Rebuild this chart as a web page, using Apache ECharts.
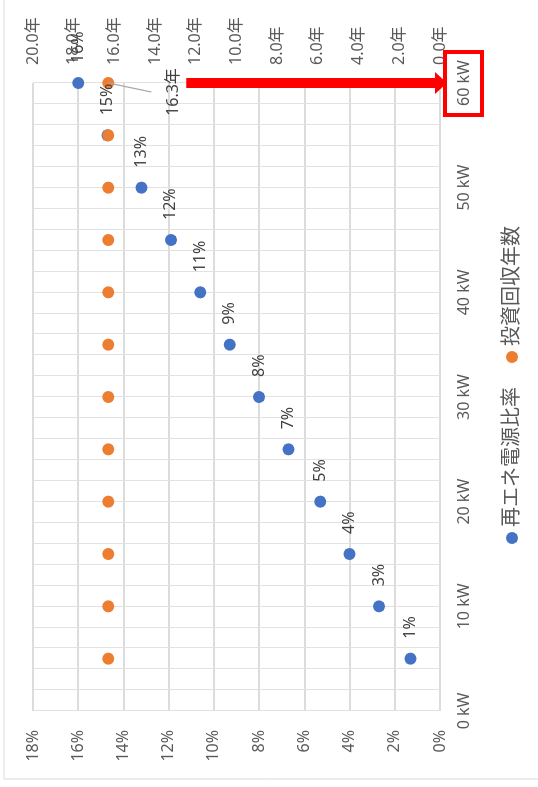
<!DOCTYPE html>
<html>
<head>
<meta charset="utf-8">
<script src="https://cdn.jsdelivr.net/npm/echarts@6/dist/echarts.min.js"></script>
<style>
  html, body { margin: 0; padding: 0; background: #fff; overflow: hidden; width: 538px; height: 787px; }
  #chart { position: absolute; left: 0; top: 0; width: 787px; height: 538px;
           transform-origin: 0 0; transform: translate(0, 787px) rotate(-90deg); background: #fff; }
</style>
</head>
<body>
<div id="chart"></div>
<script>
// ---- data ----
const capacityKW = [5, 10, 15, 20, 25, 30, 35, 40, 45, 50, 55, 60];
const renewableRatio = [1.3, 2.7, 4.0, 5.3, 6.7, 8.0, 9.3, 10.6, 11.9, 13.2, 14.7, 16.0]; // %
const paybackYears = [16.3, 16.3, 16.3, 16.3, 16.3, 16.3, 16.3, 16.3, 16.3, 16.3, 16.3, 16.3]; // 年
const seriesNames = ['再エネ電源比率', '投資回収年数'];
const kwTicks = { min: 0, max: 60, interval: 10 };
const pctTicks = { min: 0, max: 18, interval: 2 };
const yearTicks = { min: 0, max: 20, interval: 2 };

const FONT = '"Noto Sans", "Noto Sans CJK JP", sans-serif';
const chart = echarts.init(document.getElementById('chart'), null, { renderer: 'canvas' });
const lastIdx = capacityKW.length - 1;

const option = {
  animation: false,
  backgroundColor: '#fff',
  textStyle: { fontFamily: FONT },
  grid: { left: 76, right: 83, top: 33, bottom: 98 },
  legend: {
    data: seriesNames,
    left: 243, top: 502, padding: 0,
    icon: 'circle', itemWidth: 12, itemHeight: 12, itemGap: 24,
    textStyle: { fontSize: 20, color: '#595959', fontFamily: FONT }
  },
  xAxis: {
    type: 'value', min: kwTicks.min, max: kwTicks.max, interval: kwTicks.interval,
    axisLine: { show: false }, axisTick: { show: false },
    axisLabel: { formatter: v => v + ' kW', fontSize: 16, color: '#595959', margin: 16, fontFamily: FONT },
    splitLine: { show: true, lineStyle: { color: '#E2E2E2', width: 1 } },
    minorTick: { show: false, splitNumber: 5 },
    minorSplitLine: { show: true, lineStyle: { color: '#E2E2E2', width: 1 } }
  },
  yAxis: [
    {
      type: 'value', min: pctTicks.min, max: pctTicks.max, interval: pctTicks.interval,
      axisLine: { show: false }, axisTick: { show: false },
      axisLabel: { formatter: v => v + '%', fontSize: 16, color: '#595959', margin: 19, fontFamily: FONT },
      splitLine: { show: true, lineStyle: { color: '#D0D0D0', width: 1.5 } }
    },
    {
      type: 'value', min: yearTicks.min, max: yearTicks.max, interval: yearTicks.interval,
      position: 'right',
      axisLine: { show: false }, axisTick: { show: false },
      axisLabel: { formatter: v => v.toFixed(1) + '年', fontSize: 16, color: '#595959', margin: 18, fontFamily: FONT },
      splitLine: { show: false }
    }
  ],
  series: [
    {
      name: seriesNames[0], type: 'scatter', yAxisIndex: 0,
      symbol: 'circle', symbolSize: 12,
      itemStyle: { color: '#4472C4', opacity: 1 },
      data: capacityKW.map((k, i) => [k, renewableRatio[i]]),
      label: {
        show: true, position: 'right', distance: 14,
        formatter: p => Math.round(p.value[1]) + '%',
        fontSize: 16, color: '#404040', fontFamily: FONT
      }
    },
    {
      name: seriesNames[1], type: 'scatter', yAxisIndex: 1,
      symbol: 'circle', symbolSize: 12,
      itemStyle: { color: '#ED7D31', opacity: 1 },
      data: capacityKW.map((k, i) => {
        const d = { value: [k, paybackYears[i]] };
        if (i === lastIdx) {
          d.label = {
            show: true, position: 'inside', offset: [-9, 65],
            formatter: p => p.value[1].toFixed(1) + '年',
            fontSize: 16, color: '#404040', fontFamily: FONT
          };
        }
        return d;
      }),
      label: { show: false }
    }
  ]
};
chart.setOption(option);

// annotations computed from the axes
const pOrange = chart.convertToPixel({ xAxisIndex: 0, yAxisIndex: 1 }, [capacityKW[lastIdx], paybackYears[lastIdx]]);
const xKW = chart.convertToPixel({ xAxisIndex: 0 }, kwTicks.max);
const yBase = chart.convertToPixel({ yAxisIndex: 0 }, pctTicks.min);
const arrowStart = pOrange[1] + 78;
const headBase = yBase - 5;
chart.setOption({
  graphic: [
    { type: 'rect', shape: { x: 8, y: 4, width: 900, height: 700 }, style: { fill: null, stroke: '#D9D9D9', lineWidth: 1 }, silent: true, z: 0 },
    { type: 'line', shape: { x1: pOrange[0], y1: pOrange[1], x2: pOrange[0] - 9, y2: pOrange[1] + 43 },
      style: { stroke: '#A6A6A6', lineWidth: 1.2 }, z: 50 },
    { type: 'rect', shape: { x: xKW - 5, y: arrowStart, width: 10, height: headBase - arrowStart },
      style: { fill: '#FF0000' }, z: 60 },
    { type: 'polygon', shape: { points: [[xKW - 11, headBase], [xKW + 11, headBase], [xKW, yBase + 7]] },
      style: { fill: '#FF0000' }, z: 60 },
    { type: 'rect', shape: { x: xKW - 32, y: yBase + 5, width: 63, height: 37 },
      style: { fill: null, stroke: '#FF0000', lineWidth: 4 }, z: 60 }
  ]
});
</script>
</body>
</html>
